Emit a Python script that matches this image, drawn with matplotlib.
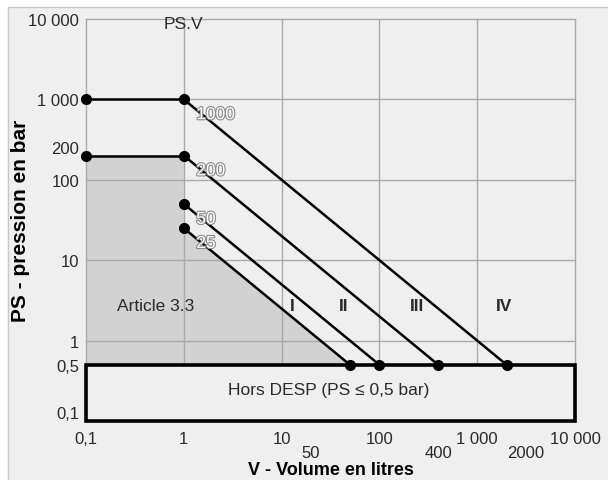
import matplotlib.pyplot as plt
import matplotlib.patheffects as pe
from matplotlib.patches import Rectangle
import numpy as np

plt.rcParams['font.family'] = ['Liberation Sans', 'DejaVu Sans']

# PS.V limits (bar.L) and where each line starts / ends
psv_values = [1000, 200, 50, 25]
psv_labels = ['1000', '200', '50', '25']
ps_limit = 0.5
horizontal_ps = [1000, 200]          # constant-pressure parts from V=0.1 to V=1

x_ticks = [0.1, 1, 10, 100, 1000, 10000]
x_ticklabels = ['0,1', '1', '10', '100', '1 000', '10 000']
y_ticks = [0.1, 0.5, 1, 10, 100, 200, 1000, 10000]
y_ticklabels = ['0,1', '0,5', '1', '10', '100', '200', '1 000', '10 000']
extra_x = [50, 400, 2000]           # end volumes marked under the axis
extra_x_shift = [-39, 0, 19]        # pixel shift of those labels

categories = ['Article 3.3', 'I', 'II', 'III', 'IV']
cat_x = [0.52, 13, 43, 245, 1900]
cat_y = 2.7

bg = '#efefef'
grid_c = '#a9a9a9'
txt_c = '#2a2a2a'
fs = 12.5

fig = plt.figure(figsize=(6.08, 4.81), dpi=100)
fig.patch.set_facecolor('white')
fig.patches.append(Rectangle((8 / 608, -0.1), 1.2, 1 - 8 / 481 + 0.1, transform=fig.transFigure,
                             facecolor=bg, edgecolor='#c8c8c8', lw=1, zorder=-10))

ax = fig.add_axes([86 / 608, 1 - 422 / 481, 489 / 608, 402 / 481])
ax.set_facecolor(bg)
ax.set_xscale('log')
ax.set_yscale('log')
ax.set_xlim(0.1, 10000)
ax.set_ylim(0.1, 10000)

for v in x_ticks:
    ax.axvline(v, color=grid_c, lw=1, zorder=1, clip_on=False)
for v in [1, 10, 100, 1000, 10000]:
    ax.axhline(v, color=grid_c, lw=1, zorder=1, clip_on=False)
for s in ax.spines.values():
    s.set_visible(False)

ax.set_xticks(x_ticks)
ax.set_xticklabels(x_ticklabels)
ax.set_yticks(y_ticks)
ax.set_yticklabels(y_ticklabels)
ax.minorticks_off()
ax.tick_params(length=0, labelsize=12, colors=txt_c, pad=5)
ax.tick_params(axis='x', pad=7)
ylabs = ax.get_yticklabels()
ylabs[0].set_va('bottom')
ylabs[5].set_va('bottom')

# Article 3.3 area
low = psv_values[-1]
area_x = [0.1, 0.1, 1, 1, low / ps_limit]
area_y = [ps_limit, horizontal_ps[1], horizontal_ps[1], low, ps_limit]
ax.fill(area_x, area_y, color='#d2d2d2', zorder=0.5, lw=0)

# out-of-scope box
ax.add_patch(Rectangle((0.1, 0.1), 10000 - 0.1, ps_limit - 0.1, facecolor=bg,
                       edgecolor='black', lw=2.6, zorder=3, clip_on=False))

for p in horizontal_ps:
    ax.plot([0.1, 1], [p, p], color='black', lw=1.8, zorder=4)
    ax.plot([0.1], [p], 'o', color='black', ms=7, zorder=5, clip_on=False)

for val, lab in zip(psv_values, psv_labels):
    v = np.array([1, val / ps_limit])
    ax.plot(v, val / v, color='black', lw=1.8, zorder=4)
    ax.plot(v, val / v, 'o', color='black', ms=7, zorder=5)
    ax.annotate(lab, (1, val), xytext=(9, -11), textcoords='offset points',
                ha='left', va='center', fontsize=fs, color='white',
                path_effects=[pe.withStroke(linewidth=1.6, foreground='#8a8a8a')], zorder=6)

for v, sh in zip(extra_x, extra_x_shift):
    ax.annotate(str(v), (v, 0), xycoords=('data', 'axes fraction'),
                xytext=(sh * 0.72, -23), textcoords='offset points',
                ha='center', va='center', fontsize=12, color=txt_c)

for c, x in zip(categories, cat_x):
    ax.text(x, cat_y, c, ha='center', va='center', fontsize=fs, color=txt_c,
            fontweight='normal' if c.startswith('A') else 'bold')

ax.text(30, 0.25, 'Hors DESP (PS \u2264 0,5 bar)', ha='center', va='center',
        fontsize=fs, color=txt_c, zorder=6)
ax.annotate('PS.V', (1, 10000), xytext=(0, -3.5), textcoords='offset points',
            ha='center', va='center', fontsize=fs, color=txt_c, zorder=6)

ax.set_xlabel('V - Volume en litres', fontsize=13, fontweight='bold', va='center')
ax.xaxis.set_label_coords(0.5, -0.121)
ax.set_ylabel('PS - pression en bar', fontsize=15, fontweight='bold', va='center')
ax.yaxis.set_label_coords(-0.133, 0.5)

fig.savefig('out.png', dpi=100, facecolor=fig.get_facecolor())
